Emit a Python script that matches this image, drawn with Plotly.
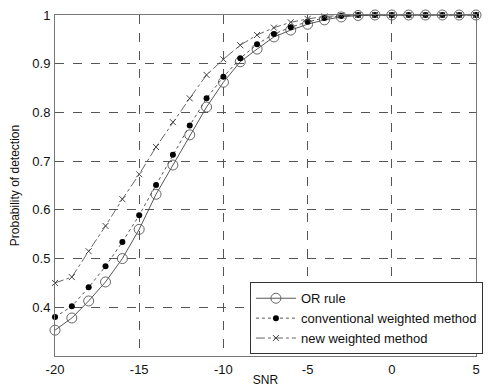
import plotly.graph_objects as go

snr = list(range(-20, 6))
or_rule = [0.353, 0.378, 0.413, 0.452, 0.500, 0.560, 0.632, 0.692, 0.754, 0.811,
           0.862, 0.904, 0.930, 0.955, 0.969, 0.981, 0.990, 0.996, 0.999, 1.0,
           1.0, 1.0, 1.0, 1.0, 1.0, 1.0]
conventional = [0.380, 0.402, 0.441, 0.484, 0.534, 0.589, 0.651, 0.713, 0.773, 0.829,
                0.873, 0.911, 0.940, 0.961, 0.975, 0.986, 0.994, 0.998, 1.0, 1.0,
                1.0, 1.0, 1.0, 1.0, 1.0, 1.0]
new_weighted = [0.450, 0.462, 0.515, 0.567, 0.622, 0.673, 0.729, 0.780, 0.829, 0.877,
                0.909, 0.938, 0.959, 0.974, 0.985, 0.992, 0.997, 0.999, 1.0, 1.0,
                1.0, 1.0, 1.0, 1.0, 1.0, 1.0]

x_ticks = [-20, -15, -10, -5, 0, 5]
y_ticks = [0.4, 0.5, 0.6, 0.7, 0.8, 0.9, 1]
y_tick_text = ["0.4", "0.5", "0.6", "0.7", "0.8", "0.9", "1"]

font = "Liberation Sans, Arial, sans-serif"

fig = go.Figure()
fig.add_trace(go.Scatter(
    x=snr, y=or_rule, name="OR rule", mode="lines+markers", cliponaxis=False,
    line=dict(color="#444", width=0.9, dash="solid"),
    marker=dict(symbol="circle-open", size=10, color="#555", line=dict(width=0.9)),
))
fig.add_trace(go.Scatter(
    x=snr, y=conventional, name="conventional weighted method", mode="lines+markers",
    cliponaxis=False,
    line=dict(color="#444", width=0.9, dash="dot"),
    marker=dict(symbol="circle", size=6, color="#000"),
))
fig.add_trace(go.Scatter(
    x=snr, y=new_weighted, name="new weighted method", mode="lines+markers",
    cliponaxis=False,
    line=dict(color="#555", width=0.9, dash="dashdot"),
    marker=dict(symbol="x-thin-open", size=6, color="#444", line=dict(width=1)),
))

fig.update_layout(
    width=490, height=389,
    margin=dict(l=55, r=7, t=15, b=33),
    paper_bgcolor="white", plot_bgcolor="white",
    font=dict(family=font, size=13, color="#111"),
    showlegend=True,
    legend=dict(
        x=0.463, y=0.005, xanchor="left", yanchor="bottom",
        bgcolor="white", bordercolor="#333", borderwidth=1,
        font=dict(family=font, size=13, color="#111"),
        itemwidth=40, tracegroupgap=0,
    ),
)
fig.update_xaxes(
    range=[-20, 5], tickvals=x_ticks, ticktext=[str(v) for v in x_ticks],
    showgrid=True, gridcolor="#555", griddash="dash", gridwidth=1,
    showline=True, linecolor="#777", linewidth=1, mirror=True,
    zeroline=False, ticks="", ticklen=0, ticklabelstandoff=1,
    tickfont=dict(family=font, size=13), automargin=False,
    title=dict(text="SNR", font=dict(family=font, size=12), standoff=0),
)
fig.update_yaxes(
    range=[0.3, 1.0], tickvals=y_ticks, ticktext=y_tick_text,
    showgrid=True, gridcolor="#555", griddash="dash", gridwidth=1,
    showline=True, linecolor="#777", linewidth=1, mirror=True,
    zeroline=False, ticks="", ticklen=0, ticklabelstandoff=1,
    tickfont=dict(family=font, size=13), automargin=False,
    title=dict(text="Probability of detection", font=dict(family=font, size=12), standoff=10),
)

fig.write_html("out.html")
